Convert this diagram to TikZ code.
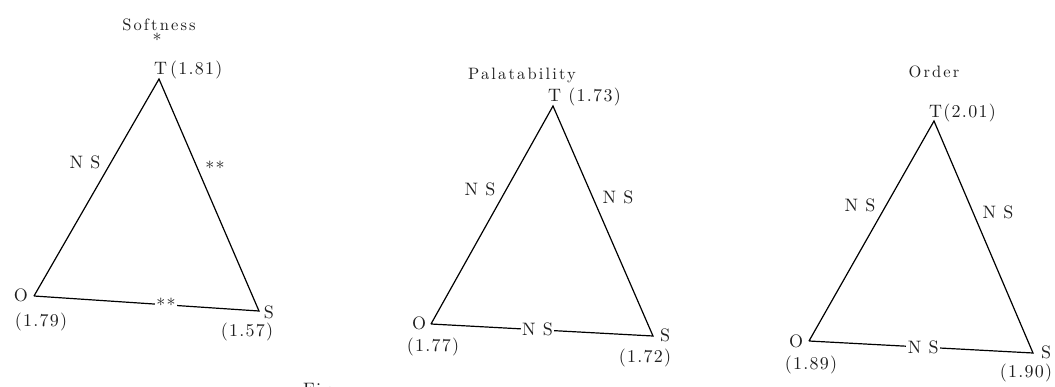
\documentclass[tikz,border=0pt]{standalone}
\usepackage{fontspec}
\newfontfamily\lblfont[LetterSpace=7]{lmroman10-regular.otf}
\newfontfamily\ttlfont[LetterSpace=13]{lmroman10-regular.otf}
\begin{document}
\begin{tikzpicture}[x=1pt,y=-1pt,
  lbl/.style={font=\lblfont\fontsize{18}{19}\selectfont, inner sep=0pt, text=black!88},
  ttl/.style={font=\ttlfont\fontsize{16.5}{17}\selectfont, inner sep=0pt, text=black!88},
  edgelbl/.style={lbl, fill=white, inner sep=1.5pt},
  tri/.style={line width=1.2pt, line join=miter}]
\useasboundingbox (0,0) rectangle (1055,386);

% ---------- Softness ----------
\coordinate (T1) at (159,79);
\coordinate (O1) at (34,296);
\coordinate (S1) at (259,311);
\draw[tri] (O1) -- (T1) -- (S1) -- node[edgelbl, pos=0.413] (b1) {**} (O1);
\node[ttl] (title1) at (159,25) {Softness};
\node[lbl] (star1) at (157,40) {*};
\node[lbl, anchor=base west] (tl1) at (154,74) {T\,(1.81)};
\node[lbl] (ol1) at (21,295) {O};
\node[lbl] (ov1) at (41,322) {(1.79)};
\node[lbl] (sl1) at (269,312) {S};
\node[lbl] (sv1) at (247,332) {(1.57)};
\node[lbl] (l1) at (85,162) {N S};
\node[lbl] (r1) at (215,168) {**};

% ---------- Palatability ----------
\coordinate (T2) at (553,106);
\coordinate (O2) at (431,324);
\coordinate (S2) at (653,336);
\draw[tri] (O2) -- (T2) -- (S2) -- node[edgelbl, pos=0.52] (b2) {N S} (O2);
\node[ttl] (title2) at (522,75) {Palatability};
\node[lbl, anchor=base west] (tl2) at (548,101) {T (1.73)};
\node[lbl] (ol2) at (419,323) {O};
\node[lbl] (ov2) at (433,347) {(1.77)};
\node[lbl] (sl2) at (665,335) {S};
\node[lbl] (sv2) at (645,358) {(1.72)};
\node[lbl] (l2) at (480,189) {N S};
\node[lbl] (r2) at (618,197) {N S};

% ---------- Order ----------
\coordinate (T3) at (934,121);
\coordinate (O3) at (809,341);
\coordinate (S3) at (1033,353);
\draw[tri] (O3) -- (T3) -- (S3) -- node[edgelbl, pos=0.49] (b3) {N S} (O3);
\node[ttl] (title3) at (934,72) {Order};
\node[lbl, anchor=base west] (tl3) at (929,117) {T(2.01)};
\node[lbl] (ol3) at (796,341) {O};
\node[lbl] (ov3) at (811,365) {(1.89)};
\node[lbl] (sl3) at (1046,352) {S};
\node[lbl] (sv3) at (1026,373) {(1.90)};
\node[lbl] (l3) at (860,205) {N S};
\node[lbl] (r3) at (998,212) {N S};

% caption (cut off at the bottom edge, as in the reference)
\node[lbl, anchor=base west] (fig) at (303,395) {Fig.};
\end{tikzpicture}
\end{document}
